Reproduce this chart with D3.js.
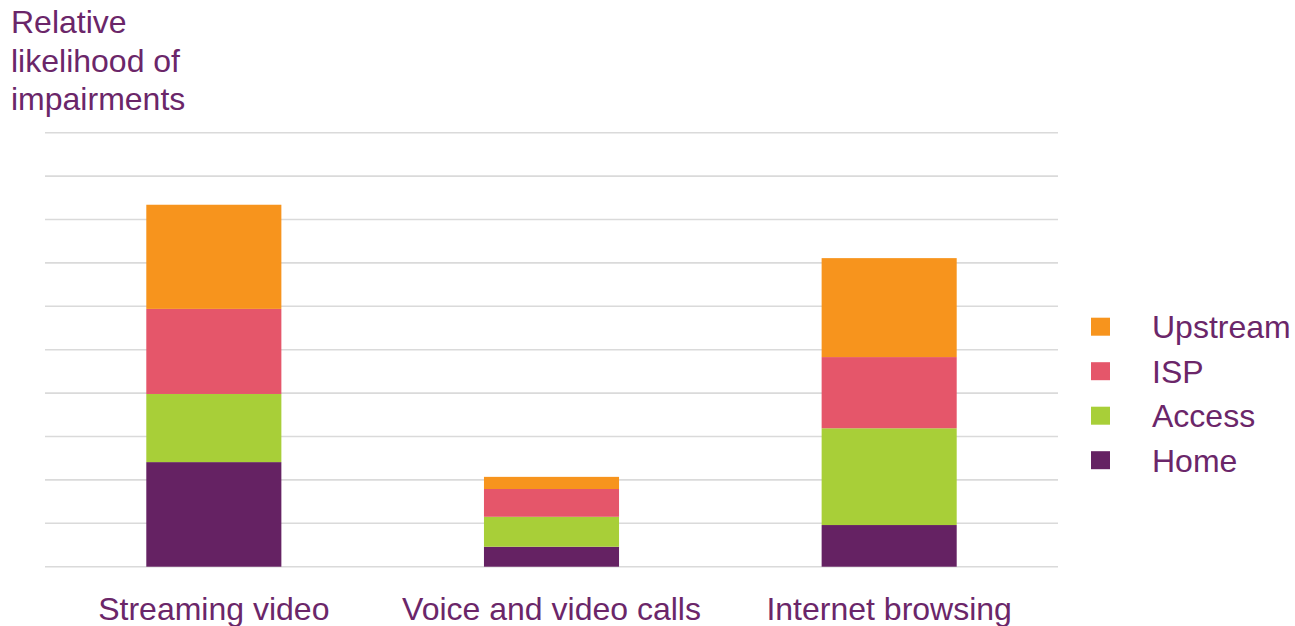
<!DOCTYPE html>
<html>
<head>
<meta charset="utf-8">
<script src="https://cdn.jsdelivr.net/npm/d3@7"></script>
<style>
  html, body { margin: 0; padding: 0; background: #fff; }
  svg { display: block; font-family: "Liberation Sans", Arial, sans-serif; }
</style>
</head>
<body>
<div id="chart"></div>
<script>
// data, in gridline units
const categories = ["Streaming video", "Voice and video calls", "Internet browsing"];
const seriesNames = ["Home", "Access", "ISP", "Upstream"];
const home = [2.41, 0.46, 0.96];
const access = [1.57, 0.69, 2.23];
const isp = [1.96, 0.64, 1.64];
const upstream = [2.40, 0.28, 2.28];
const yTicks = [0, 1, 2, 3, 4, 5, 6, 7, 8, 9, 10];
const titleLines = ["Relative", "likelihood of", "impairments"];

const colors = {
  Home: "#652263",
  Access: "#a8cf38",
  ISP: "#e5566a",
  Upstream: "#f7941d"
};
const textColor = "#6b2669";

const width = 1295, height = 626;

const rows = categories.map((c, i) => ({
  category: c,
  Home: home[i],
  Access: access[i],
  ISP: isp[i],
  Upstream: upstream[i]
}));

const svg = d3.select("#chart").append("svg")
  .attr("width", width)
  .attr("height", height);

const x = d3.scaleBand()
  .domain(categories)
  .range([45, 1058])
  .paddingInner(0.6)
  .paddingOuter(0.3);

const y = d3.scaleLinear()
  .domain([0, 10])
  .range([566.7, 132.7]);

// gridlines
svg.append("g")
  .attr("class", "grid")
  .selectAll("line")
  .data(yTicks)
  .enter().append("line")
  .attr("x1", 45)
  .attr("x2", 1058)
  .attr("y1", d => y(d))
  .attr("y2", d => y(d))
  .style("stroke", "#dadada")
  .style("stroke-width", 1.6);

// stacked bars
const stacked = d3.stack().keys(seriesNames)(rows);

svg.append("g")
  .attr("class", "bars")
  .selectAll("g")
  .data(stacked)
  .enter().append("g")
  .attr("fill", d => colors[d.key])
  .selectAll("rect")
  .data(d => d)
  .enter().append("rect")
  .attr("x", d => x(d.data.category))
  .attr("width", x.bandwidth())
  .attr("y", d => y(d[1]))
  .attr("height", d => y(d[0]) - y(d[1]));

// category labels
svg.append("g")
  .attr("class", "x-labels")
  .selectAll("text")
  .data(categories)
  .enter().append("text")
  .attr("x", d => x(d) + x.bandwidth() / 2)
  .attr("y", 620)
  .attr("text-anchor", "middle")
  .style("fill", textColor)
  .style("font-size", "32px")
  .text(d => d);

// axis title
svg.append("text")
  .attr("class", "y-title")
  .style("fill", textColor)
  .style("font-size", "32px")
  .selectAll("tspan")
  .data(titleLines)
  .enter().append("tspan")
  .attr("x", 11)
  .attr("y", (d, i) => 33 + i * 38.5)
  .text(d => d);

// legend (top to bottom: Upstream, ISP, Access, Home)
const legendItems = seriesNames.slice().reverse();
const legend = svg.append("g")
  .attr("class", "legend")
  .selectAll("g")
  .data(legendItems)
  .enter().append("g")
  .attr("transform", (d, i) => `translate(1091, ${326.7 + i * 44.5})`);

legend.append("rect")
  .attr("x", 0)
  .attr("y", -9)
  .attr("width", 19)
  .attr("height", 18)
  .attr("fill", d => colors[d]);

legend.append("text")
  .attr("x", 61)
  .attr("y", 11.5)
  .style("fill", textColor)
  .style("font-size", "32px")
  .text(d => d);
</script>
</body>
</html>
